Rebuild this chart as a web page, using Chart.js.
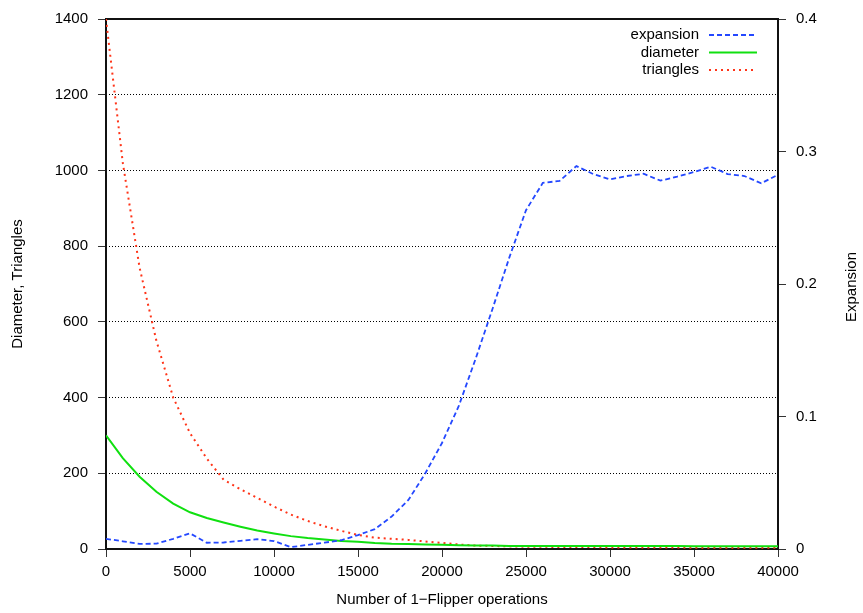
<!DOCTYPE html>
<html>
<head>
<meta charset="UTF-8">
<title>1-Flipper operations</title>
<script src="https://cdn.jsdelivr.net/npm/chart.js"></script>
<style>
  body { margin:0; background:#fff; }
  canvas { display:block; }
</style>
</head>
<body>
<canvas id="flipChart" width="863" height="613"></canvas>
<script>
// data, one point every 1000 operations
const flips = [0, 1000, 2000, 3000, 4000, 5000, 6000, 7000, 8000, 9000,
  10000, 11000, 12000, 13000, 14000, 15000, 16000, 17000, 18000, 19000,
  20000, 21000, 22000, 23000, 24000, 25000, 26000, 27000, 28000, 29000,
  30000, 31000, 32000, 33000, 34000, 35000, 36000, 37000, 38000, 39000, 40000];

const expansion = [0.0077, 0.0058, 0.0039, 0.0040, 0.0077, 0.0118, 0.0047, 0.0049, 0.0062, 0.0074,
  0.0060, 0.0014, 0.0031, 0.0048, 0.0066, 0.0105, 0.0150, 0.0245, 0.0370, 0.0570,
  0.0800, 0.1080, 0.1435, 0.1810, 0.2197, 0.2557, 0.2763, 0.2778, 0.2890, 0.2830,
  0.2790, 0.2815, 0.2832, 0.2780, 0.2810, 0.2845, 0.2885, 0.2830, 0.2815, 0.2760, 0.2825];

const diameter = [300, 240, 191, 151, 120, 97, 82, 70, 59, 49,
  41, 34, 29, 25, 21, 19, 16, 14, 13, 12,
  11, 10, 9, 9, 8, 8, 8, 8, 8, 8,
  8, 8, 8, 8, 8, 7, 7, 7, 7, 7, 7];

const triangles = [1400, 1020, 743, 550, 400, 306, 239, 183, 158, 135,
  112, 91, 74, 60, 48, 37, 30, 27, 24, 20,
  16, 12, 9, 8, 7, 6, 6, 5, 5, 5,
  4, 4, 4, 4, 4, 3, 3, 3, 3, 3, 3];

const xTicks = [0, 5000, 10000, 15000, 20000, 25000, 30000, 35000, 40000];

function pts(ys) {
  return flips.map((x, i) => ({ x: x, y: ys[i] }));
}

Chart.defaults.font.family = "'Liberation Sans', Arial, sans-serif";
Chart.defaults.font.size = 15;
Chart.defaults.color = '#000';

// box round the plot, y2 title and gnuplot-like key (text left of the sample)
const gnuplotBits = {
  id: 'gnuplotBits',
  beforeDatasetsDraw(chart) {
    const { ctx, chartArea: a } = chart;
    const l = Math.round(a.left), t = Math.round(a.top);
    const r = Math.round(a.right), b = Math.round(a.bottom);
    ctx.save();
    ctx.strokeStyle = '#111';
    ctx.lineWidth = 2;
    ctx.strokeRect(l, t, r - l, b - t);
    ctx.restore();
  },
  afterDraw(chart) {
    const { ctx, chartArea: a } = chart;
    ctx.save();
    ctx.font = "15px 'Liberation Sans', Arial, sans-serif";
    ctx.fillStyle = '#000';
    // right axis title
    ctx.translate(852, (a.top + a.bottom) / 2 + 3);
    ctx.rotate(-Math.PI / 2);
    ctx.textAlign = 'center';
    ctx.textBaseline = 'middle';
    ctx.fillText('Expansion', 0, 0);
    ctx.restore();

    ctx.save();
    ctx.font = "15px 'Liberation Sans', Arial, sans-serif";
    ctx.textAlign = 'right';
    ctx.textBaseline = 'middle';
    chart.data.datasets.forEach((ds, i) => {
      const y = 35 + i * 17.5;
      ctx.fillStyle = '#000';
      ctx.fillText(ds.label, 699, y);
      ctx.strokeStyle = ds.borderColor;
      ctx.lineWidth = ds.borderWidth;
      ctx.setLineDash(ds.borderDash || []);
      ctx.beginPath();
      ctx.moveTo(709, y);
      ctx.lineTo(757, y);
      ctx.stroke();
    });
    ctx.restore();
  }
};

new Chart(document.getElementById('flipChart'), {
  type: 'line',
  data: {
    datasets: [
      { label: 'expansion', data: pts(expansion), yAxisID: 'y2',
        borderColor: '#2448ff', borderWidth: 1.8, borderDash: [5, 3] },
      { label: 'diameter', data: pts(diameter), yAxisID: 'y',
        borderColor: '#10e010', borderWidth: 2 },
      { label: 'triangles', data: pts(triangles), yAxisID: 'y',
        borderColor: '#ff3418', borderWidth: 2, borderDash: [2, 4] }
    ]
  },
  options: {
    responsive: false,
    animation: false,
    layout: { padding: { top: 19, left: 0, right: 0, bottom: 0 } },
    elements: { point: { radius: 0 }, line: { tension: 0 } },
    plugins: { legend: { display: false }, tooltip: { enabled: false } },
    scales: {
      x: {
        type: 'linear', min: 0, max: 40000,
        afterBuildTicks: s => { s.ticks = xTicks.map(v => ({ value: v })); },
        afterFit: s => { s.height = 64; },
        ticks: { autoSkip: false, maxRotation: 0, padding: 6, callback: v => String(v) },
        grid: { drawOnChartArea: false, tickLength: 8, tickColor: '#333', lineWidth: 1 },
        border: { display: false },
        title: { display: true, text: 'Number of 1\u2212Flipper operations',
          padding: { top: 0, bottom: 4 } }
      },
      y: {
        position: 'left', min: 0, max: 1400,
        afterFit: s => { s.width = 106; },
        ticks: { stepSize: 200, padding: 10, callback: v => String(v) },
        grid: { color: '#000', lineWidth: 1, tickLength: 8, tickColor: '#333' },
        border: { display: false, dash: [1, 2] },
        title: { display: true, text: 'Diameter, Triangles', padding: { top: 9, bottom: 0 } }
      },
      y2: {
        position: 'right', min: 0, max: 0.4,
        afterFit: s => { s.width = 85; },
        ticks: { stepSize: 0.1, padding: 10, callback: v => v === 0 ? '0' : v.toFixed(1) },
        grid: { drawOnChartArea: false, tickLength: 8, tickColor: '#333' },
        border: { display: false }
      }
    }
  },
  plugins: [gnuplotBits]
});
</script>
</body>
</html>
